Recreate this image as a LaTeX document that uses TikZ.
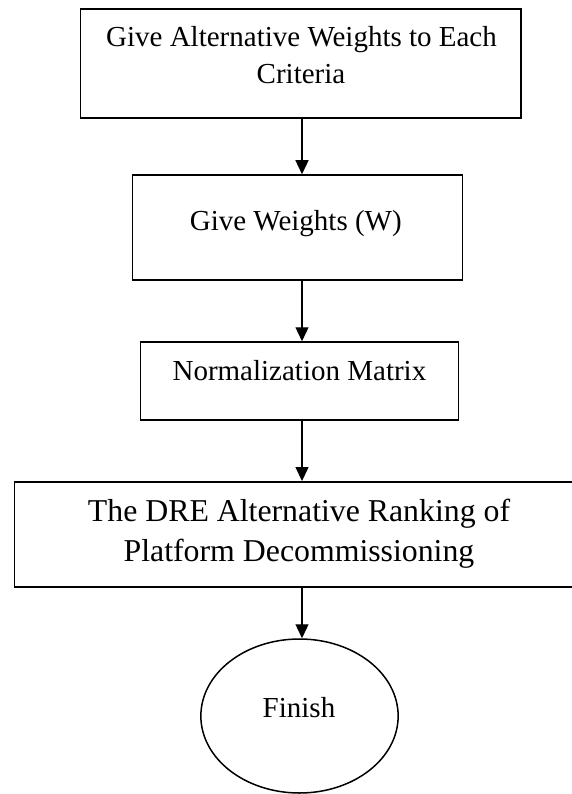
\documentclass[tikz,border=0pt]{standalone}
\usepackage{fontspec}
\setmainfont{Liberation Serif}
\usetikzlibrary{arrows.meta,shapes.geometric}
\begin{document}
\begin{tikzpicture}[x=1pt,y=1pt,
  box/.style={draw, line width=1.5pt, inner sep=0pt},
  lbl/.style={anchor=base, inner sep=0pt, font=\fontsize{29}{36}\selectfont},
  biglbl/.style={anchor=base, inner sep=0pt, font=\fontsize{31.8}{40}\selectfont},
  flow/.style={-{Triangle[length=14pt,width=13pt]}, line width=1.3pt}]
\useasboundingbox (0,0) rectangle (572,-794);
\clip (0,0) rectangle (572,-794);

% boxes of the flow
\node[box, minimum width=440.3pt, minimum height=109pt] (b1) at (300.85,-63.5) {};
\node[box, minimum width=330.2pt, minimum height=105pt] (b2) at (297.6,-227.5) {};
\node[box, minimum width=318pt, minimum height=78pt] (b3) at (299.7,-381) {};
\node[box, minimum width=570pt, minimum height=105pt] (b4) at (299.3,-534.3) {};
\node[draw, ellipse, line width=1.5pt, inner sep=0pt,
      minimum width=197.3pt, minimum height=154pt] (e) at (299.5,-716) {};

% labels
\node[lbl] (t1a) at (301.5,-46.7) {Give Alternative Weights to Each};
\node[lbl] (t1b) at (301,-83.3) {Criteria};
\node[lbl] (t2) at (295.8,-230) {Give Weights (W)};
\node[lbl] (t3) at (299.4,-380) {Normalization Matrix};
\node[biglbl] (t4a) at (299,-521.7) {The DRE Alternative Ranking of};
\node[biglbl] (t4b) at (299,-561.7) {Platform Decommissioning};
\node[lbl] (t5) at (299,-717) {Finish};

% connectors
\coordinate (ax) at (302,0);
\draw[flow] (b1.south -| ax) -- (b2.north -| ax);
\draw[flow] (b2.south -| ax) -- (b3.north -| ax);
\draw[flow] (b3.south -| ax) -- (b4.north -| ax);
\draw[flow] (b4.south -| ax) -- (e.north -| ax);
\end{tikzpicture}
\end{document}
